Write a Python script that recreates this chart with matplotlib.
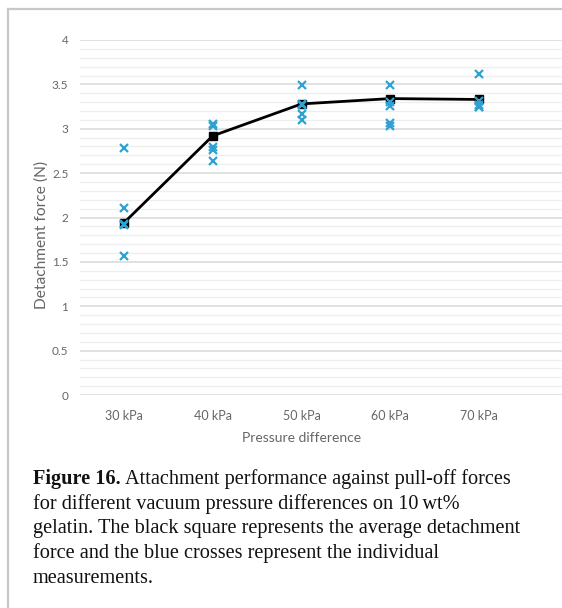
import matplotlib
matplotlib.use("Agg")
import matplotlib.pyplot as plt
from matplotlib.lines import Line2D
from matplotlib.ticker import MultipleLocator

# ---- data -------------------------------------------------------------
categories = ["30 kPa", "40 kPa", "50 kPa", "60 kPa", "70 kPa"]
mean_force = [1.94, 2.92, 3.28, 3.34, 3.33]
measurements = [
    [2.78, 2.11, 1.93, 1.92, 1.57],
    [3.05, 3.03, 2.80, 2.76, 2.64],
    [3.49, 3.28, 3.27, 3.17, 3.10],
    [3.49, 3.30, 3.26, 3.06, 3.03],
    [3.62, 3.31, 3.27, 3.25, 3.24],
]
y_ticks = [0, 0.5, 1, 1.5, 2, 2.5, 3, 3.5, 4]
y_tick_labels = ["0", "0.5", "1", "1.5", "2", "2.5", "3", "3.5", "4"]
caption_lines = [
    ("Figure 16.", " Attachment performance against pull-off forces"),
    ("", "for different vacuum pressure differences on 10\u2009wt%"),
    ("", "gelatin. The black square represents the average detachment"),
    ("", "force and the blue crosses represent the individual"),
    ("", "measurements."),
]

W, H = 562, 608
fig = plt.figure(figsize=(W / 100, H / 100), dpi=100)

def fx(px):
    return px / W

def fy(py):
    return 1 - py / H

# ---- axes -------------------------------------------------------------
left_px, top_px, bottom_px = 79.5, 40, 395
cat0_px, step_px = 124, 88.8
ax = fig.add_axes([fx(left_px), fy(bottom_px), 1 - fx(left_px),
                   fy(top_px) - fy(bottom_px)])
x = list(range(len(categories)))
ax.set_xlim(-0.5, (W - cat0_px) / step_px)
ax.set_ylim(0, 4)

for s in ax.spines.values():
    s.set_visible(False)

ax.yaxis.set_major_locator(MultipleLocator(0.5))
ax.yaxis.set_minor_locator(MultipleLocator(0.1))
ax.grid(axis="y", which="major", color="#d9d9d9", linewidth=1.1)
ax.grid(axis="y", which="minor", color="#eeeeee", linewidth=0.9)
ax.set_axisbelow(True)

text_color = "#666666"
ax.set_yticks(y_ticks)
ax.set_yticklabels(y_tick_labels)
ax.set_xticks(x)
ax.set_xticklabels(categories)
ax.tick_params(axis="y", which="both", length=0, pad=8, labelsize=8.5,
               labelcolor=text_color)
ax.tick_params(axis="x", which="both", length=0, pad=10.5, labelsize=9,
               labelcolor=text_color)
for lab in ax.get_xticklabels() + ax.get_yticklabels():
    lab.set_fontfamily("Lato")

# average line with squares
ax.plot(x, mean_force, color="black", linewidth=2, marker="s",
        markersize=6, zorder=3)

# individual measurements
for xi, vals in zip(x, measurements):
    ax.plot([xi] * len(vals), vals, linestyle="none", marker="x",
            markersize=5.5, markeredgewidth=1.6, color="#2ea3d3", zorder=4)

fig.text(fx(302), fy(438), "Pressure difference", ha="center", va="center",
         fontsize=10, color=text_color, family="Lato")
fig.text(fx(42), fy(235), "Detachment force (N)", ha="center", va="center",
         rotation=90, fontsize=11.2, color=text_color, family="Lato")

# ---- frame around the figure ------------------------------------------
frame_color = "#c8c8c8"
fig.add_artist(Line2D([fx(8), fx(8)], [fy(9), 0], color=frame_color,
                      linewidth=1.6, transform=fig.transFigure))
fig.add_artist(Line2D([fx(8), 1], [fy(9), fy(9)], color=frame_color,
                      linewidth=1.6, transform=fig.transFigure))

# ---- caption ----------------------------------------------------------
baselines = [484, 509, 533.5, 558, 583]
cap_size = 14.6
for (bold, rest), base in zip(caption_lines, baselines):
    t = fig.text(fx(33), fy(base), bold, ha="left", va="baseline",
                 fontsize=cap_size, fontweight="bold",
                 family="Liberation Serif", color="#111111")
    if bold:
        fig.canvas.draw()
        bb = t.get_window_extent()
        xs = bb.x1 / fig.bbox.width
    else:
        xs = fx(33)
    fig.text(xs, fy(base), rest, ha="left", va="baseline",
             fontsize=cap_size, family="Liberation Serif", color="#111111")

fig.savefig("out.png", dpi=100)
